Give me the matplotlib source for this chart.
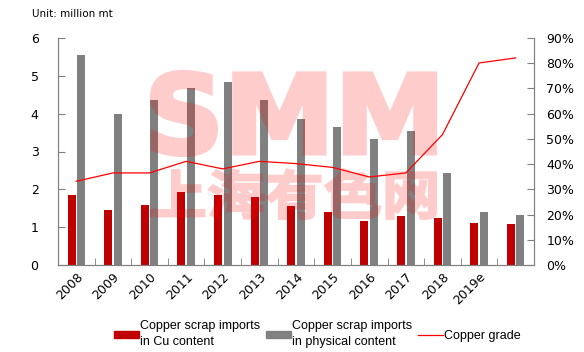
import numpy as np
import matplotlib.pyplot as plt
from matplotlib.lines import Line2D
from matplotlib.patches import Patch, PathPatch
from matplotlib.textpath import TextPath
from matplotlib.font_manager import FontProperties
from matplotlib.transforms import Affine2D

years = ["2008", "2009", "2010", "2011", "2012", "2013", "2014",
         "2015", "2016", "2017", "2018", "2019e", ""]
cu_content = [1.86, 1.46, 1.59, 1.92, 1.86, 1.81, 1.57, 1.41, 1.17, 1.30, 1.25, 1.12, 1.09]
physical = [5.56, 4.00, 4.37, 4.69, 4.85, 4.37, 3.87, 3.66, 3.34, 3.55, 2.44, 1.41, 1.33]
grade = [33.2, 36.5, 36.5, 41.1, 38.1, 41.1, 40.2, 38.7, 34.9, 36.5, 51.7, 80.1, 82.1]

red = "#c00000"
gray = "#808080"
W, H = 584, 352


def text_patch(fig, text, box, family, lw):
    # stretch the glyph outline to fill a pixel box (x0, y0, x1, y1)
    tp = TextPath((0, 0), text, size=100, prop=FontProperties(family=family, weight="bold"))
    ext = tp.get_extents()
    x0, y0, x1, y1 = box
    sx = (x1 - x0) / W / ext.width
    sy = (y1 - y0) / H / ext.height
    tr = Affine2D().translate(-ext.x0, -ext.y0).scale(sx, sy).translate(x0 / W, 1 - y1 / H)
    fig.add_artist(PathPatch(tr.transform_path(tp), facecolor="k", edgecolor="k", lw=lw,
                             transform=fig.transFigure))


def watermark():
    # draw the logo opaque off-screen, then lay it on as one translucent layer
    wm = plt.figure(figsize=(W / 100, H / 100), dpi=100)
    text_patch(wm, "SMM", (152, 72, 435, 155), "DejaVu Sans", 3.0)
    text_patch(wm, "上海有色网", (151, 169, 436, 219), "Noto Sans CJK SC", 1.5)
    wm.canvas.draw()
    buf = np.asarray(wm.canvas.buffer_rgba()).astype(float)
    plt.close(wm)
    img = np.zeros((buf.shape[0], buf.shape[1], 4))
    img[..., 0] = 1.0
    img[..., 3] = (1 - buf[..., 0] / 255) * 0.2
    return img


fig = plt.figure(figsize=(W / 100, H / 100), dpi=100)
ax = fig.add_axes([58 / W, 1 - 265 / H, 476 / W, 227 / H])
ax2 = ax.twinx()

x = np.arange(len(years))
w = 0.22
ax.bar(x - 0.13, cu_content, w, color=red, zorder=2)
ax.bar(x + 0.13, physical, w, color=gray, zorder=2)
ax2.plot(x, grade, color="#ff0000", lw=0.9)

ax.set_xlim(-0.5, len(years) - 0.5)
ax.set_ylim(0, 6)
ax2.set_ylim(0, 90)
ax.set_yticks(range(7))
ax2.set_yticks(range(0, 91, 10))
ax2.set_yticklabels([f"{v}%" for v in range(0, 91, 10)])

# year labels sit at category centres, tick marks at the boundaries
ax.set_xticks(x)
ax.set_xticklabels(years, rotation=45, ha="right", rotation_mode="anchor", fontsize=9)
ax.tick_params(axis="x", length=0, pad=4)
ax.set_xticks(np.arange(-0.5, len(years)), minor=True)
ax.tick_params(axis="x", which="minor", direction="in", length=5, color=gray)

ax.tick_params(axis="y", direction="in", length=5, color=gray, labelsize=9, pad=14)
ax2.tick_params(axis="y", direction="in", length=5, color=gray, labelsize=9, pad=9)
for a in (ax, ax2):
    a.spines["top"].set_visible(False)
    for s in ("left", "right", "bottom"):
        a.spines[s].set_color(gray)

fig.text(32 / W, 1 - 14 / H, "Unit: million mt", fontsize=7.5, va="center")

fig.figimage(watermark(), zorder=10)

handles = [Patch(color=red), Patch(color=gray), Line2D([], [], color="#ff0000", lw=0.9)]
labels = ["Copper scrap imports\nin Cu content", "Copper scrap imports\nin physical content",
          "Copper grade"]
fig.legend(handles, labels, loc="center", bbox_to_anchor=(317 / W, 1 - 334 / H), ncol=3,
           frameon=False, prop={"family": "Liberation Sans", "size": 9},
           handlelength=2.0, handleheight=0.5, handletextpad=0.05, columnspacing=0.5,
           labelspacing=0.2, borderpad=0.1)
for t in fig.legends[0].get_texts():
    t.set_linespacing(1.45)

fig.savefig("out.png", dpi=100)
